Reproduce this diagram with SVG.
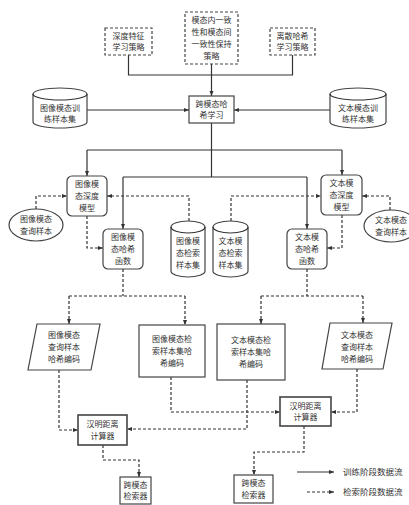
<svg xmlns="http://www.w3.org/2000/svg" width="409" height="505" viewBox="0 0 409 505">
<style>
.n{fill:#fff;stroke:#444;stroke-width:1.2}
.d{fill:#fff;stroke:#444;stroke-width:1.2;stroke-dasharray:3,2}
.t{font-family:"Noto Sans CJK SC",sans-serif;font-size:8px;fill:#333;text-anchor:middle}
.l{font-family:"Noto Sans CJK SC",sans-serif;font-size:8.5px;fill:#333}
.s{fill:none;stroke:#333;stroke-width:1.2}
.ds{fill:none;stroke:#333;stroke-width:1.2;stroke-dasharray:3,2}
</style>
<defs>
<marker id="a" viewBox="0 0 10 10" refX="10" refY="5" markerWidth="4.5" markerHeight="4.5" orient="auto"><path d="M0,1 L10,5 L0,9z" fill="#333"/></marker>
</defs>
<rect width="409" height="505" fill="#fff"/>
<g id="connectors">
<path class="s" d="M128.5,55 V75 H292.5 V55"/>
<path class="s" d="M211.5,64 V96" marker-end="url(#a)"/>
<path class="s" d="M87,110 H189" marker-end="url(#a)"/>
<path class="s" d="M330,110 H234" marker-end="url(#a)"/>
<path class="s" d="M211.5,123 V177"/>
<path class="s" d="M87,150 H342"/>
<path class="s" d="M87,150 V176" marker-end="url(#a)"/>
<path class="s" d="M342,150 V175" marker-end="url(#a)"/>
<path class="s" d="M123,177 H307"/>
<path class="s" d="M123,177 V229" marker-end="url(#a)"/>
<path class="s" d="M307,177 V229" marker-end="url(#a)"/>
<path class="ds" d="M36,209 V196 H67" marker-end="url(#a)"/>
<path class="ds" d="M189,221 V196 H107" marker-end="url(#a)"/>
<path class="ds" d="M87,216 V248 H103" marker-end="url(#a)"/>
<path class="ds" d="M231,221 V196 H321" marker-end="url(#a)"/>
<path class="ds" d="M390,210 V196 H362" marker-end="url(#a)"/>
<path class="ds" d="M342,215 V248 H327" marker-end="url(#a)"/>
<path class="ds" d="M123,269 V296 M69,296 H185"/>
<path class="ds" d="M69,296 V324" marker-end="url(#a)"/>
<path class="ds" d="M185,296 V325" marker-end="url(#a)"/>
<path class="ds" d="M307,269 V296 M261,296 H363"/>
<path class="ds" d="M261,296 V324" marker-end="url(#a)"/>
<path class="ds" d="M363,296 V323" marker-end="url(#a)"/>
<path class="ds" d="M59,370 V430 H78" marker-end="url(#a)"/>
<path class="ds" d="M171,377 V412 H280" marker-end="url(#a)"/>
<path class="ds" d="M247,380 V429 H127" marker-end="url(#a)"/>
<path class="ds" d="M357,369 V412 H331" marker-end="url(#a)"/>
<path class="ds" d="M103,445 V460 H139 V477" marker-end="url(#a)"/>
<path class="ds" d="M304,426 V452 H254 V475" marker-end="url(#a)"/>
</g>
<g id="strategy1"><rect class="d" x="105" y="28" width="47" height="27"/><text class="t" x="128.5" y="38.6">深度特征<tspan x="128.5" dy="11.7">学习策略</tspan></text></g>
<g id="strategy2"><rect class="d" x="185" y="12" width="53" height="52"/><text class="t" x="211.5" y="23.4">模态内一致<tspan x="211.5" dy="11.7">性和模态间</tspan><tspan x="211.5" dy="11.7">一致性保持</tspan><tspan x="211.5" dy="11.7">策略</tspan></text></g>
<g id="strategy3"><rect class="d" x="270" y="28" width="45" height="27"/><text class="t" x="292.5" y="38.6">离散哈希<tspan x="292.5" dy="11.7">学习策略</tspan></text></g>
<g id="crossHash"><rect class="n" x="189" y="96" width="45" height="27"/><text class="t" x="211.5" y="106.6">跨模态哈<tspan x="211.5" dy="11.7">希学习</tspan></text></g>
<g id="imgTrain"><path class="n" d="M33,94 A27,6 0 0,1 87,94 V122 A27,6 0 0,1 33,122 Z"/><path class="s" d="M33,94 A27,6 0 0,0 87,94"/><text class="t" x="60" y="110.6">图像模态训<tspan x="60" dy="11.7">练样本集</tspan></text></g>
<g id="txtTrain"><path class="n" d="M330,94 A28,6 0 0,1 386,94 V122 A28,6 0 0,1 330,122 Z"/><path class="s" d="M330,94 A28,6 0 0,0 386,94"/><text class="t" x="358" y="110.6">文本模态训<tspan x="358" dy="11.7">练样本集</tspan></text></g>
<g id="imgDeep"><rect class="n" x="67" y="176" width="40" height="40" rx="5"/><text class="t" x="87" y="187.2">图像模<tspan x="87" dy="11.7">态深度</tspan><tspan x="87" dy="11.7">模型</tspan></text></g>
<g id="imgHashFn"><rect class="n" x="103" y="229" width="40" height="40" rx="5"/><text class="t" x="123" y="240.2">图像模<tspan x="123" dy="11.7">态哈希</tspan><tspan x="123" dy="11.7">函数</tspan></text></g>
<g id="txtDeep"><rect class="n" x="321" y="175" width="41" height="40" rx="5"/><text class="t" x="341.5" y="186.2">文本模<tspan x="341.5" dy="11.7">态深度</tspan><tspan x="341.5" dy="11.7">模型</tspan></text></g>
<g id="txtHashFn"><rect class="n" x="287" y="229" width="40" height="40" rx="5"/><text class="t" x="307" y="240.2">文本模<tspan x="307" dy="11.7">态哈希</tspan><tspan x="307" dy="11.7">函数</tspan></text></g>
<g id="imgQuery"><ellipse class="n" cx="36" cy="225" rx="27" ry="16"/><text class="t" x="36" y="222.2">图像模态<tspan x="36" dy="11.7">查询样本</tspan></text></g>
<g id="txtQuery"><ellipse class="n" cx="391" cy="226" rx="27" ry="16"/><text class="t" x="391" y="223.2">文本模态<tspan x="391" dy="11.7">查询样本</tspan></text></g>
<g id="imgRetr"><path class="n" d="M171,227 A17,6 0 0,1 205,227 V271 A17,6 0 0,1 171,271 Z"/><path class="s" d="M171,227 A17,6 0 0,0 205,227"/><text class="t" x="188" y="244.2">图像模<tspan x="188" dy="11.7">态检索</tspan><tspan x="188" dy="11.7">样本集</tspan></text></g>
<g id="txtRetr"><path class="n" d="M213,227 A17.5,6 0 0,1 248,227 V271 A17.5,6 0 0,1 213,271 Z"/><path class="s" d="M213,227 A17.5,6 0 0,0 248,227"/><text class="t" x="230.5" y="244.2">文本模<tspan x="230.5" dy="11.7">态检索</tspan><tspan x="230.5" dy="11.7">样本集</tspan></text></g>
<g id="imgQCode"><polygon class="n" points="37,324 100,324 91,370 28,370"/><text class="t" x="64" y="338.2">图像模态<tspan x="64" dy="11.7">查询样本</tspan><tspan x="64" dy="11.7">哈希编码</tspan></text></g>
<g id="imgRCode"><rect class="n" x="139" y="325" width="66" height="52"/><text class="t" x="172" y="342.2">图像模态检<tspan x="172" dy="11.7">索样本集哈</tspan><tspan x="172" dy="11.7">希编码</tspan></text></g>
<g id="txtRCode"><rect class="n" x="217" y="324" width="68" height="56"/><text class="t" x="251" y="343.2">文本模态检<tspan x="251" dy="11.7">索样本集哈</tspan><tspan x="251" dy="11.7">希编码</tspan></text></g>
<g id="txtQCode"><polygon class="n" points="330,323 392,323 383,369 322,369"/><text class="t" x="357" y="338.2">文本模态<tspan x="357" dy="11.7">查询样本</tspan><tspan x="357" dy="11.7">哈希编码</tspan></text></g>
<g id="hamL"><rect class="n" x="78" y="415" width="49" height="30" style="stroke-width:1.6"/><text class="t" x="102.5" y="427">汉明距离<tspan x="102.5" dy="11.7">计算器</tspan></text></g>
<g id="hamR"><rect class="n" x="280" y="397" width="51" height="29" style="stroke-width:1.6"/><text class="t" x="305.5" y="408.5">汉明距离<tspan x="305.5" dy="11.7">计算器</tspan></text></g>
<g id="retrL"><rect class="n" x="120" y="477" width="31" height="27"/><text class="t" x="135.5" y="487.5">跨模态<tspan x="135.5" dy="11.7">检索器</tspan></text></g>
<g id="retrR"><rect class="n" x="234" y="475" width="39" height="28"/><text class="t" x="253.5" y="486">跨模态<tspan x="253.5" dy="11.7">检索器</tspan></text></g>
<g id="legend">
<path class="s" d="M297,472 H334" marker-end="url(#a)"/>
<text class="l" x="343" y="475">训练阶段数据流</text>
<path class="ds" d="M307,492 H334" marker-end="url(#a)"/>
<text class="l" x="343" y="495">检索阶段数据流</text>
</g>
</svg>
